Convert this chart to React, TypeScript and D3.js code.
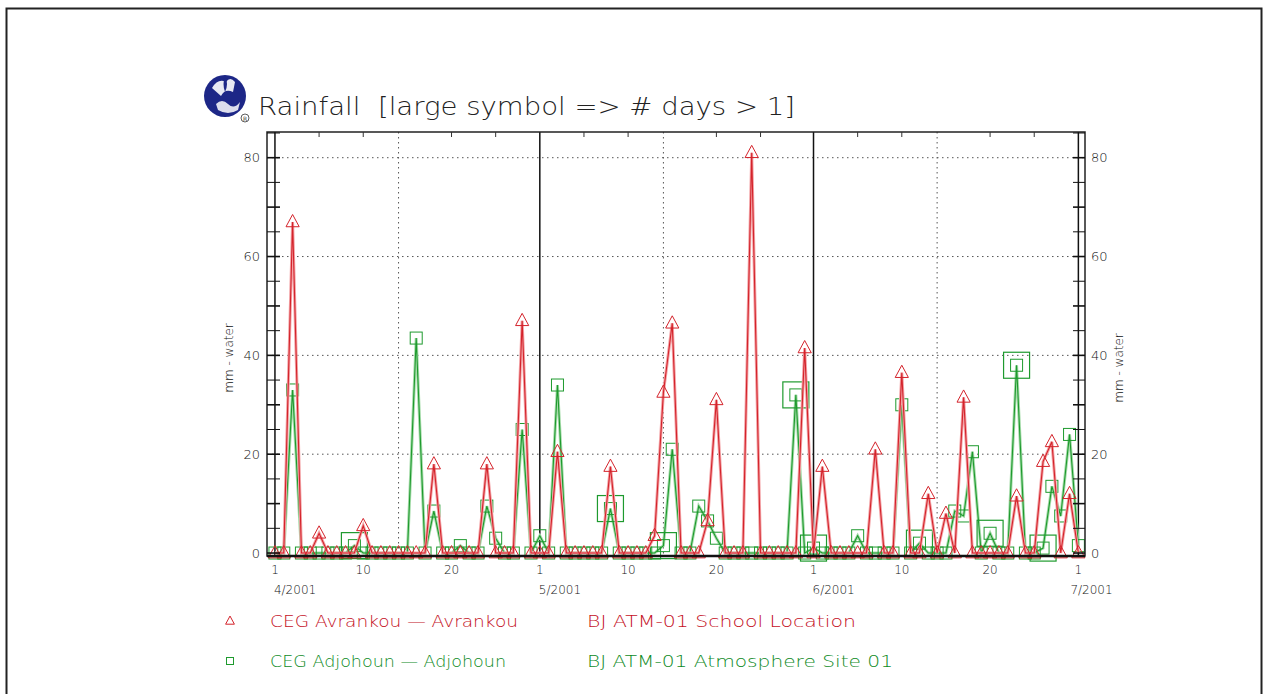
import React from 'react';
import * as d3 from 'd3';

// Daily rainfall (mm), index 0 = 1 April 2001 ... index 91 = 1 July 2001
const avrankou: number[] = [
  0, 0, 67, 0, 0, 4, 0, 0, 0, 0,
  5.5, 0, 0, 0, 0, 0, 0, 0, 18, 0,
  0, 0, 0, 0, 18, 0, 0, 0, 47, 0,
  0, 0, 20.5, 0, 0, 0, 0, 0, 17.5, 0,
  0, 0, 0, 3.5, 32.5, 46.5, 0, 0, 0, 6.5,
  31, 0, 0, 0, 81, 0, 0, 0, 0, 0,
  41.5, 0, 17.5, 0, 0, 0, 0, 0, 21, 0,
  0, 36.5, 0, 0, 12, 0, 8, 0, 31.5, 0,
  0, 0, 0, 0, 11.5, 0, 0, 18.5, 22.5, 0,
  12, 0,
];
const adjohoun: number[] = [
  0, 0, 33, 0, 0, 0, 0, 0, 0, 1.5,
  0, 0, 0, 0, 0, 0, 43.5, 0, 8.5, 0,
  0, 1.5, 0, 0, 9.5, 3, 0, 0, 25, 0,
  3.5, 0, 34, 0, 0, 0, 0, 0, 9, 0,
  0, 0, 0, 0, 1.5, 21, 0, 0, 9.5, 6.5,
  3, 0, 0, 0, 0, 0, 0, 0, 0, 32,
  0, 1, 0, 0, 0, 0, 3.5, 0, 0, 0,
  0, 30, 0, 2, 0, 0, 0, 8.5, 7.5, 20.5,
  0, 4, 0, 0, 38, 0, 0, 1, 13.5, 7.5,
  24, 1.5,
];
// days whose value covers more than one day (large symbol)
const adjohounMultiDay: number[] = [9, 38, 44, 59, 61, 73, 81, 84, 87];
const avrankouMultiDay: number[] = [];

const yTickLabels: number[] = [0, 20, 40, 60, 80];
const yMinorTicks: number[] = [0, 5, 10, 15, 20, 25, 30, 35, 40, 45, 50, 55, 60, 65, 70, 75, 80, 85];
const monthStartDays: number[] = [0, 30, 61, 91];
const monthLabels: string[] = ['4/2001', '5/2001', '6/2001', '7/2001'];
const dayTickDays: number[] = [0, 10, 20, 30, 40, 50, 61, 71, 81, 91];
const dayTickLabels: string[] = ['1', '10', '20', '1', '10', '20', '1', '10', '20', '1'];
const midMonthDays: number[] = [14, 44, 75];
const topMinorDays: number[] = [5, 10, 20, 25, 35, 40, 50, 55, 66, 71, 81, 86];

const title = 'Rainfall  [large symbol => # days > 1]';
const legendRows = [
  { name: 'CEG Avrankou \u2014 Avrankou', site: 'BJ ATM-01 School Location', kind: 'tri' },
  { name: 'CEG Adjohoun \u2014 Adjohoun', site: 'BJ ATM-01 Atmosphere Site 01', kind: 'sq' },
];

const RED = '#d4232b';
const RED_LIGHT = '#f3a3a6';
const GREEN = '#1e9a2e';
const GREEN_LIGHT = '#a6dcaa';
const RED_TEXT = '#c4101e';
const GREEN_TEXT = '#0e8a1e';
const FONT = '"DejaVu Sans", "Liberation Sans", sans-serif';
const THIN = '"DejaVu Sans ExtraLight", "DejaVu Sans", sans-serif';

const L = 267, R = 1085, T = 132, B = 556;

export default function App() {
  const x = d3.scaleLinear().domain([-0.9, 91.75]).range([L, R]);
  const y = d3.scaleLinear().domain([-0.6, 85.2]).range([B, T]);

  const line = d3
    .line<number>()
    .x((_, i) => x(i))
    .y((d) => y(d));

  const tri = (cx: number, cy: number, s: number) =>
    `M${cx},${cy - s * 0.62}L${cx + s * 0.55},${cy + s * 0.4}L${cx - s * 0.55},${cy + s * 0.4}Z`;

  const renderSeries = (vals: number[], multi: number[], color: string, light: string, kind: string) => (
    <g>
      <path d={line(vals) || ''} fill="none" stroke={light} strokeWidth={3} />
      <path d={line(vals) || ''} fill="none" stroke={color} strokeWidth={1.1} />
      {vals.map((v, i) => {
        const cx = x(i);
        const cy = y(v);
        const big = multi.includes(i);
        if (kind === 'tri') {
          return (
            <g key={i}>
              <path d={tri(cx, cy, 12)} fill="none" stroke={color} strokeWidth={1} />
              {big && <path d={tri(cx, cy, 24)} fill="none" stroke={color} strokeWidth={1} />}
            </g>
          );
        }
        return (
          <g key={i}>
            <rect x={cx - 6} y={cy - 6} width={12} height={12} fill="none" stroke={color} strokeWidth={1} />
            {big && <rect x={cx - 13} y={cy - 13} width={26} height={26} fill="none" stroke={color} strokeWidth={1.2} />}
          </g>
        );
      })}
    </g>
  );

  return (
    <svg
      width={1266}
      height={694}
      style={{ position: 'absolute', left: 0, top: 0, background: '#fff' }}
      fontFamily={FONT}
    >
      <rect x={0} y={0} width={1266} height={694} fill="#fff" />
      {/* outer frame */}
      <rect x={6.5} y={8.5} width={1255} height={700} fill="none" stroke="#222" strokeWidth={2} />

      {/* logo */}
      <g>
        <circle cx={225} cy={96} r={21} fill="#1d2787" />
        <path d="M212,88 q6,-10 14,-6 q4,-6 9,0 l-2,10 q-8,-4 -12,4 z" fill="#fff" opacity={0.9} />
        <path d="M216,104 q6,-6 12,0 q6,6 12,-2 l-2,8 q-10,6 -20,0 z" fill="#fff" opacity={0.85} />
        <path d="M225,76 q4,8 0,16 q-3,-8 0,-16z" fill="#1d2787" />
        <circle cx={245} cy={118} r={4} fill="none" stroke="#333" strokeWidth={0.8} />
        <text x={245} y={120.5} fontSize={6} textAnchor="middle" fill="#333">R</text>
      </g>

      {/* title */}
      <text x={258} y={115} fontSize={25} fontFamily={THIN} fontWeight={200} fill="#222" textLength={537} lengthAdjust="spacingAndGlyphs" style={{ whiteSpace: 'pre' }}>
        {title}
      </text>

      {/* horizontal dotted grid */}
      {yTickLabels
        .filter((v) => v > 0)
        .map((v) => (
          <line key={'hg' + v} x1={L} x2={R} y1={y(v)} y2={y(v)} stroke="#555" strokeWidth={1} strokeDasharray="1.5,3.5" />
        ))}
      {/* mid-month dotted verticals */}
      {midMonthDays.map((d) => (
        <line key={'vg' + d} x1={x(d)} x2={x(d)} y1={T} y2={B} stroke="#555" strokeWidth={1} strokeDasharray="1.5,3.5" />
      ))}
      {/* month solid lines */}
      {monthStartDays.map((d) => (
        <line key={'ms' + d} x1={x(d)} x2={x(d)} y1={T} y2={B} stroke="#111" strokeWidth={1.5} />
      ))}

      {/* series */}
      {renderSeries(adjohoun, adjohounMultiDay, GREEN, GREEN_LIGHT, 'sq')}
      {renderSeries(avrankou, avrankouMultiDay, RED, RED_LIGHT, 'tri')}

      {/* frame */}
      <rect x={L} y={T} width={R - L} height={B - T} fill="none" stroke="#222" strokeWidth={1.5} />
      <line x1={L} x2={R} y1={B} y2={B} stroke="#111" strokeWidth={2.5} />

      {/* y ticks */}
      {yMinorTicks.map((v) => (
        <g key={'yt' + v}>
          <line x1={L} x2={L + 13} y1={y(v)} y2={y(v)} stroke="#111" strokeWidth={v % 10 === 0 ? 1.6 : 1} />
          <line x1={R - 12} x2={R} y1={y(v)} y2={y(v)} stroke="#111" strokeWidth={v % 10 === 0 ? 1.6 : 1} />
        </g>
      ))}
      {/* top minor ticks */}
      {topMinorDays.map((d) => (
        <line key={'tt' + d} x1={x(d)} x2={x(d)} y1={T} y2={T + 5} stroke="#333" strokeWidth={1} />
      ))}

      {/* y labels */}
      {yTickLabels.map((v) => (
        <g key={'yl' + v}>
          <text x={260} y={y(v) + 4.5} fontSize={13} fontFamily={THIN} fontWeight={200} textAnchor="end" fill="#111">{v}</text>
          <text x={1091} y={y(v) + 4.5} fontSize={13} fontFamily={THIN} fontWeight={200} textAnchor="start" fill="#111">{v}</text>
        </g>
      ))}
      <text transform="translate(233,358) rotate(-90)" fontSize={12} fontFamily={THIN} fontWeight={200} textAnchor="middle" fill="#111">mm - water</text>
      <text transform="translate(1123,368) rotate(-90)" fontSize={12} fontFamily={THIN} fontWeight={200} textAnchor="middle" fill="#111">mm - water</text>

      {/* x labels */}
      {dayTickDays.map((d, i) => (
        <text key={'xl' + d} x={x(d)} y={574} fontSize={12} fontFamily={THIN} fontWeight={200} textAnchor="middle" fill="#111">
          {dayTickLabels[i]}
        </text>
      ))}
      {monthStartDays.map((d, i) => (
        <text key={'ml' + d} x={x(d) - (i === 3 ? 8 : 1)} y={594} fontSize={12} fontFamily={THIN} fontWeight={200} textAnchor="start" fill="#111">
          {monthLabels[i]}
        </text>
      ))}

      {/* legend */}
      {legendRows.map((r, i) => {
        const cy = 621 + i * 40;
        const col = i === 0 ? RED : GREEN;
        const tcol = i === 0 ? RED_TEXT : GREEN_TEXT;
        return (
          <g key={'lg' + i}>
            {r.kind === 'tri' ? (
              <path d={tri(230, cy, 8)} fill="none" stroke={col} strokeWidth={1} />
            ) : (
              <rect x={226.5} y={cy - 3.5} width={7} height={7} fill="none" stroke={col} strokeWidth={1} />
            )}
            <text x={270} y={cy + 5.5} fontSize={15} fontFamily={THIN} fontWeight={200} fill={tcol} textLength={i === 0 ? 248 : 236} lengthAdjust="spacingAndGlyphs">
              {r.name}
            </text>
            <text x={587} y={cy + 5.5} fontSize={15} fontFamily={THIN} fontWeight={200} fill={tcol} textLength={i === 0 ? 269 : 306} lengthAdjust="spacingAndGlyphs">
              {r.site}
            </text>
          </g>
        );
      })}
    </svg>
  );
}
